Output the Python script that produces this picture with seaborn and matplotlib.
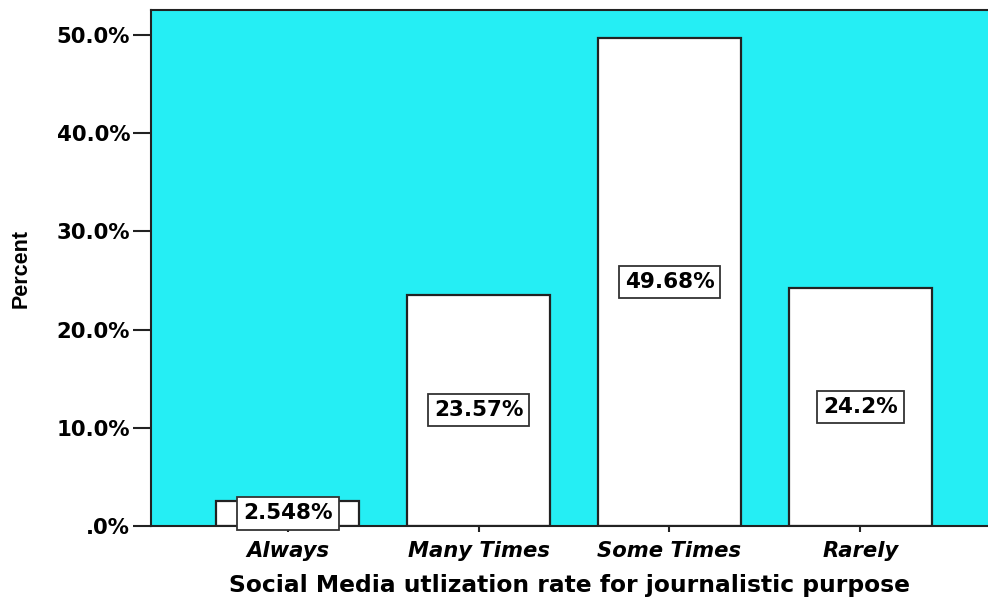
import matplotlib
matplotlib.use("Agg")
import matplotlib.pyplot as plt
import seaborn as sns
import pandas as pd

categories = ["Always", "Many Times", "Some Times", "Rarely"]
percents = [2.548, 23.57, 49.68, 24.2]
bar_labels = ["2.548%", "23.57%", "49.68%", "24.2%"]
y_ticks = [0, 10, 20, 30, 40, 50]
y_tick_labels = [".0%", "10.0%", "20.0%", "30.0%", "40.0%", "50.0%"]

sns.set_theme(style="white")
plt.rcParams["font.family"] = ["DejaVu Sans"]
plt.rcParams["text.color"] = "black"
plt.rcParams["xtick.color"] = "black"
plt.rcParams["ytick.color"] = "black"
plt.rcParams["axes.labelcolor"] = "black"

df = pd.DataFrame({"cat": categories, "pct": percents})

fig = plt.figure(figsize=(9.88, 6.0), dpi=100)
ax = fig.add_axes([151 / 988, 74 / 600, 1 - 151 / 988, 516 / 600])
ax.set_facecolor("#25EEF4")

sns.barplot(data=df, x="cat", y="pct", color="white", saturation=1,
            edgecolor="#222222", linewidth=1.6, width=0.75, ax=ax)
for p in ax.patches:
    p.set_facecolor("white")

for i, (v, lab) in enumerate(zip(percents, bar_labels)):
    ax.text(i, v / 2, lab, ha="center", va="center", fontsize=15.5,
            fontweight="bold", color="black",
            bbox=dict(boxstyle="square,pad=0.28", facecolor="white",
                      edgecolor="#333333", linewidth=1.3))

ax.set_xlim(-0.718, 3.67)
ax.set_ylim(0, 52.55)
ax.set_yticks(y_ticks)
ax.set_yticklabels(y_tick_labels, fontsize=15.3, fontweight="bold")
ax.set_xticks(range(len(categories)))
ax.set_xticklabels(categories, fontsize=15.2, fontweight="bold", style="italic")

ax.tick_params(axis="y", direction="out", length=13, width=1.5, color="#222222",
               pad=2, left=True)
ax.tick_params(axis="x", direction="out", length=4.5, width=1.5, color="#222222",
               pad=6, bottom=True)

for side in ["left", "top", "bottom"]:
    ax.spines[side].set_visible(True)
    ax.spines[side].set_color("#222222")
    ax.spines[side].set_linewidth(1.5)
ax.spines["right"].set_visible(False)

ax.set_xlabel("Social Media utlization rate for journalistic purpose",
              fontsize=16.8, fontweight="bold", labelpad=10)
ax.set_ylabel("Percent", fontsize=15.5, fontweight="bold", labelpad=18,
              family="Liberation Sans")

fig.savefig("out.png", dpi=100)
